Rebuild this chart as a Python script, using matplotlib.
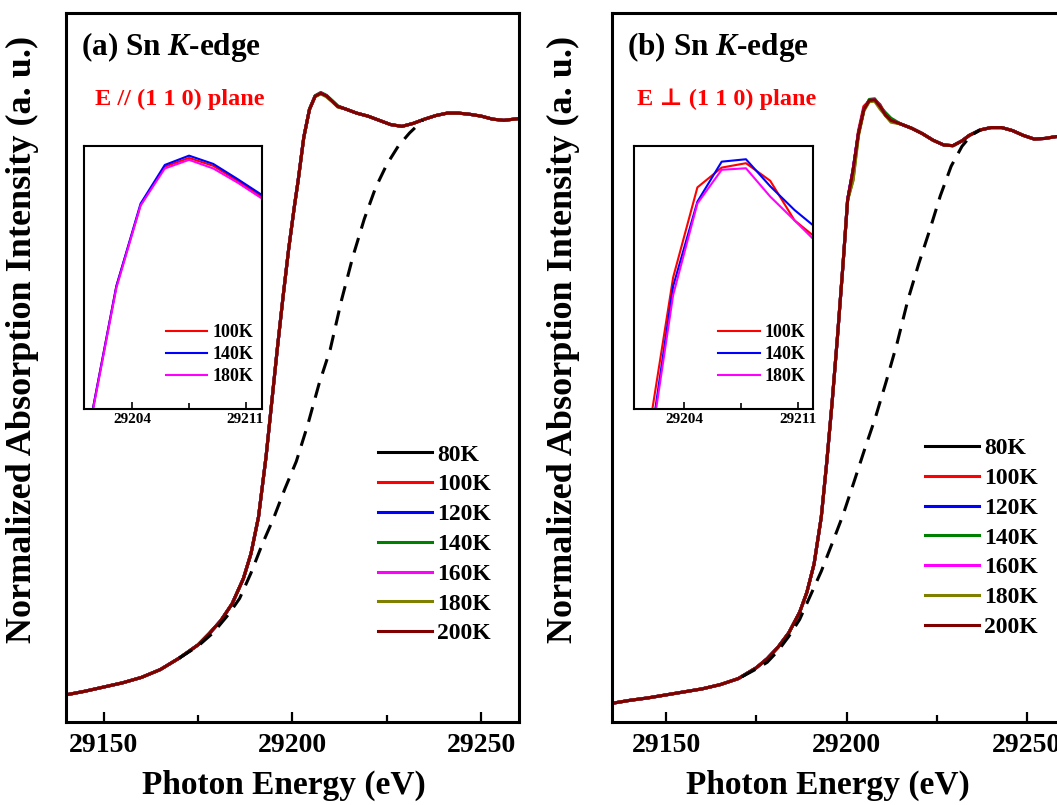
import numpy as np
import matplotlib
matplotlib.use("Agg")
import matplotlib.pyplot as plt
from matplotlib.ticker import MultipleLocator

plt.rcParams['font.family'] = ['Liberation Serif', 'DejaVu Serif']
plt.rcParams['font.weight'] = 'bold'
plt.rcParams['axes.labelweight'] = 'bold'
plt.rcParams['mathtext.fontset'] = 'custom'
plt.rcParams['mathtext.it'] = 'Liberation Serif:italic:bold'
plt.rcParams['mathtext.rm'] = 'Liberation Serif:bold'

TEMPS = ['80K', '100K', '120K', '140K', '160K', '180K', '200K']
COLORS = ['black', 'red', 'blue', 'green', 'magenta', 'olive', 'maroon']
INSET_TEMPS = ['100K', '140K', '180K']
INSET_COLORS = ['red', 'blue', 'magenta']

# (a) E // (1 1 0): all temperatures overlap except near the white line
E_A = [29140, 29145, 29150, 29155, 29160, 29165, 29170, 29175, 29178, 29181,
       29184, 29187, 29189, 29191, 29193, 29194.5, 29196, 29197.5, 29199, 29200.5,
       29201.5, 29203, 29204.5, 29206, 29207.5, 29209, 29210.5, 29212, 29214, 29217,
       29220, 29223, 29226, 29229, 29232, 29235, 29238, 29241, 29244, 29247,
       29250, 29253, 29256, 29260]
MU_A = [0.045, 0.051, 0.058, 0.065, 0.074, 0.087, 0.106, 0.128, 0.147, 0.168,
        0.196, 0.238, 0.279, 0.340, 0.440, 0.530, 0.620, 0.705, 0.785, 0.855,
        0.898, 0.970, 1.016, 1.038, 1.043, 1.0385, 1.030, 1.021, 1.017, 1.010,
        1.005, 0.998, 0.991, 0.988, 0.993, 1.000, 1.006, 1.010, 1.010, 1.008,
        1.005, 1.000, 0.998, 1.001]
PEAK_E_A = [29201.5, 29203, 29204.5, 29206, 29207.5, 29209, 29210.5, 29212]
PEAK_A = {
    '100K': [0.898, 0.970, 1.016, 1.038, 1.0430, 1.0385, 1.030, 1.021],
    '140K': [0.898, 0.970, 1.017, 1.039, 1.0443, 1.0396, 1.031, 1.022],
    '180K': [0.897, 0.969, 1.016, 1.037, 1.0419, 1.0370, 1.029, 1.020],
}
STEP_E_A = [29170, 29175, 29179, 29183, 29186, 29189, 29192, 29195, 29198, 29201,
            29204, 29207, 29210, 29213, 29216, 29219, 29222, 29225, 29228, 29231, 29234.5]
STEP_A = [0.106, 0.126, 0.148, 0.178, 0.205, 0.247, 0.295, 0.338, 0.387, 0.432,
          0.492, 0.560, 0.618, 0.700, 0.772, 0.834, 0.886, 0.925, 0.955, 0.977, 0.998]

# (b) E perpendicular to (1 1 0)
E_B = [29135, 29140, 29145, 29150, 29155, 29160, 29165, 29170, 29175, 29178,
       29181, 29184, 29187, 29189, 29191, 29193, 29194.5, 29196, 29197.5, 29199,
       29200.3, 29201.8, 29203.3, 29204.8, 29206.3, 29207.8, 29209.3, 29210.8, 29212.3, 29215,
       29218, 29221, 29224, 29227, 29229.5, 29232, 29234, 29237, 29240, 29243,
       29246, 29249, 29252, 29255, 29258, 29261]
MU_B = [0.031, 0.036, 0.040, 0.045, 0.050, 0.055, 0.062, 0.072, 0.090, 0.105,
        0.124, 0.148, 0.182, 0.215, 0.262, 0.340, 0.430, 0.530, 0.640, 0.757,
        0.866, 0.915, 0.976, 1.016, 1.031, 1.032, 1.021, 1.007, 0.998, 0.992,
        0.985, 0.976, 0.965, 0.957, 0.956, 0.964, 0.973, 0.982, 0.986, 0.986,
        0.981, 0.973, 0.967, 0.968, 0.971, 0.972]
PEAK_E_B = [29201.8, 29203.3, 29204.8, 29206.3, 29207.8, 29209.3, 29210.8, 29212.3]
PEAK_B = {
    '100K': [0.910, 0.980, 1.0210, 1.0300, 1.0320, 1.0240, 1.0060, 0.9970],
    '140K': [0.900, 0.976, 1.0145, 1.0327, 1.0338, 1.0215, 1.0107, 1.0016],
    '180K': [0.898, 0.972, 1.0137, 1.0290, 1.0297, 1.0168, 1.0060, 0.9950],
}
STEP_E_B = [29171, 29175, 29178, 29181, 29184, 29187, 29190, 29193, 29196, 29199,
            29202, 29205, 29208, 29211, 29214, 29217, 29220, 29223, 29226, 29229,
            29232, 29234.5, 29237]
STEP_B = [0.075, 0.088, 0.099, 0.118, 0.142, 0.170, 0.210, 0.250, 0.296, 0.343,
          0.397, 0.452, 0.505, 0.565, 0.628, 0.700, 0.760, 0.815, 0.873, 0.922,
          0.955, 0.973, 0.982]


def spectrum(E, base, peak_E, peak, T):
    y = np.array(base, dtype=float)
    if T in peak:
        idx = [E.index(e) for e in peak_E]
        y[idx] = peak[T]
    return y


def draw_panel(ax, ax_in, E, base, peak_E, peak, step_E, step, xlim, inset_xlim,
               inset_ylim, title, pol, leg_anchor, inleg_anchor):
    for T, c in zip(TEMPS, COLORS):
        ax.plot(E, spectrum(E, base, peak_E, peak, T), color=c, lw=2.2, label=T)
    ax.plot(step_E, step, color='black', lw=2.2, dashes=(5, 3.2))
    ax.set_xlim(xlim)
    ax.set_ylim(0, 1.176)
    ax.set_xticks([29150, 29200, 29250])
    ax.xaxis.set_minor_locator(MultipleLocator(25))
    ax.tick_params(axis='x', which='major', direction='in', length=7, width=1.6,
                   labelsize=20, pad=8)
    ax.tick_params(axis='x', which='minor', direction='in', length=5, width=1.6)
    ax.tick_params(axis='y', which='both', left=False, labelleft=False)
    for s in ax.spines.values():
        s.set_linewidth(2.2)
    ax.set_xlabel('Photon Energy (eV)', fontsize=24)
    ax.set_ylabel('Normalized Absorption Intensity (a. u.)', fontsize=26)
    ax.text(0.034, 0.941, title, transform=ax.transAxes, fontsize=22.5, va='baseline')
    ax.text(pol[1], 0.870, pol[0], transform=ax.transAxes, fontsize=17.5,
            color='red', va='baseline')
    ax.legend(loc='upper left', bbox_to_anchor=leg_anchor, frameon=False, fontsize=17,
              handlelength=2.3, handletextpad=0.2, labelspacing=0.35,
              borderpad=0, borderaxespad=0)

    for T, c in zip(INSET_TEMPS, INSET_COLORS):
        ax_in.plot(E, spectrum(E, base, peak_E, peak, T), color=c, lw=1.5, label=T)
    ax_in.set_xlim(inset_xlim)
    ax_in.set_ylim(inset_ylim)
    ax_in.set_xticks([29204, 29211])
    ax_in.set_xticks([29207.5], minor=True)
    ax_in.tick_params(axis='x', which='major', direction='in', length=5, width=1.2,
                      labelsize=11, pad=3)
    ax_in.tick_params(axis='x', which='minor', direction='in', length=4, width=1.2)
    ax_in.tick_params(axis='y', which='both', left=False, labelleft=False)
    for s in ax_in.spines.values():
        s.set_linewidth(1.5)
    ax_in.legend(loc='upper left', bbox_to_anchor=inleg_anchor, frameon=False, fontsize=13,
                 handlelength=2.3, handletextpad=0.28, labelspacing=0.28,
                 borderpad=0, borderaxespad=0)


fig = plt.figure(figsize=(10.57, 8.05), dpi=100)
ax_a = fig.add_axes([0.0624, 0.1031, 0.4286, 0.8807])
ax_b = fig.add_axes([0.5790, 0.1031, 0.4267, 0.8807])
in_a = fig.add_axes([0.0795, 0.4916, 0.1681, 0.3275])
in_b = fig.add_axes([0.6001, 0.4916, 0.1693, 0.3275])

draw_panel(ax_a, in_a, E_A, MU_A, PEAK_E_A, PEAK_A, STEP_E_A, STEP_A,
           (29140, 29260), (29201, 29212), (0.90, 1.05),
           r'(a) Sn $\mathit{K}$-edge', ('E // (1 1 0) plane', 0.064),
           (0.689, 0.392), (0.461, 0.322))
draw_panel(ax_b, in_b, E_B, MU_B, PEAK_E_B, PEAK_B, STEP_E_B, STEP_B,
           (29135, 29260), (29200.9, 29211.96), (0.92, 1.04),
           r'(b) Sn $\mathit{K}$-edge', ('E \u22a5 (1 1 0) plane', 0.056),
           (0.694, 0.401), (0.469, 0.322))

ax_a.xaxis.set_label_coords(0.481, -0.068)
ax_b.xaxis.set_label_coords(0.479, -0.068)
ax_a.yaxis.set_label_coords(-0.060, 0.539)
ax_b.yaxis.set_label_coords(-0.072, 0.539)

fig.savefig('out.png', dpi=100)
